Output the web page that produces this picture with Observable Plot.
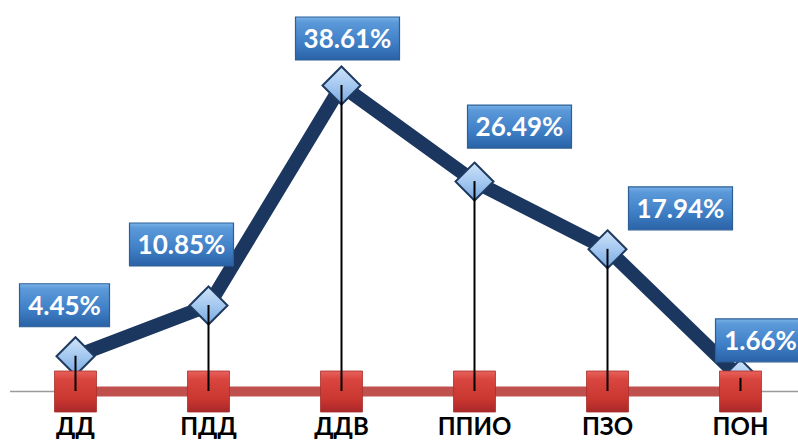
<!DOCTYPE html>
<html>
<head>
<meta charset="utf-8">
<script src="https://cdn.jsdelivr.net/npm/d3@7"></script>
<script src="https://cdn.jsdelivr.net/npm/@observablehq/plot@0.6"></script>
<style>
  html, body { margin: 0; padding: 0; background: white; }
  #chart svg { display: block; }
</style>
</head>
<body>
<div id="chart"></div>
<script>
const categories = ["ДД", "ПДД", "ДДВ", "ППИО", "ПЗО", "ПОН"];
const values = [4.45, 10.85, 38.61, 26.49, 17.94, 1.66];
const labelDx = [-11, -27, 6, 45, 73, 20];
const labelDy = [-51, -61, -47, -55, -41, -38];

const data = categories.map((c, i) => ({cat: c, value: values[i], label: values[i].toFixed(2) + "%"}));

const rectSymbol = (w, h) => ({draw(ctx) { ctx.rect(-w / 2, -h / 2, w, h); }});
const diamondSymbol = (s) => ({draw(ctx) { ctx.moveTo(0, -s); ctx.lineTo(s, 0); ctx.lineTo(0, s); ctx.lineTo(-s, 0); ctx.closePath(); }});

function defsMark() {
  const defs = d3.create("svg:defs");
  const grad = (id, stops) => {
    const g = defs.append("linearGradient").attr("id", id).attr("x1", 0).attr("y1", 0).attr("x2", 0).attr("y2", 1);
    stops.forEach(([o, c]) => g.append("stop").attr("offset", o).attr("stop-color", c));
  };
  grad("boxGrad", [[0, "#7ab2e8"], [0.12, "#5b99d9"], [0.6, "#3f7fc6"], [1, "#2a62a6"]]);
  grad("diaGrad", [[0, "#cfe3f8"], [0.5, "#a4c8f0"], [1, "#78a9e0"]]);
  grad("redGrad", [[0, "#e8625d"], [0.2, "#d9463f"], [0.7, "#c9352f"], [1, "#a9282a"]]);
  return defs.node();
}

const boxMarks = [];
data.forEach((d, i) => {
  const w = d.label.length * 14 + 20;
  boxMarks.push(Plot.dot([d], {
    x: "cat", y: "value", r: 5,
    symbol: rectSymbol(w, 43),
    dx: labelDx[i], dy: labelDy[i],
    fill: "url(#boxGrad)", stroke: "#2d5f96", strokeWidth: 1.2,
    style: "filter: drop-shadow(2px 3px 2px rgba(0,0,0,0.35))"
  }));
  boxMarks.push(Plot.text([d], {
    x: "cat", y: "value", text: "label",
    dx: labelDx[i], dy: labelDy[i] + 1,
    fill: "white", fontSize: 26, fontWeight: "bold", fontFamily: "Lato",
    textAnchor: "middle", lineAnchor: "middle",
    style: "text-shadow: 1px 1px 1px rgba(0,0,0,0.3)"
  }));
});

const chart = Plot.plot({
  width: 798,
  height: 440,
  marginTop: 74,
  marginBottom: 49,
  marginLeft: 10,
  marginRight: 0,
  style: {background: "white", fontFamily: "Lato"},
  x: {type: "point", domain: categories, range: [75, 740], padding: 0, label: null},
  y: {domain: [0, 40], range: [391, 74], axis: null},
  marks: [
    defsMark,
    Plot.ruleY([0], {stroke: "#9a9a9a", strokeWidth: 1.5}),
    Plot.line(data, {x: "cat", y: () => 0, stroke: "#c0504d", strokeWidth: 10, strokeLinecap: "butt"}),
    Plot.line(data, {x: "cat", y: "value", stroke: "#1b365f", strokeWidth: 14, strokeLinejoin: "miter", strokeLinecap: "butt"}),
    Plot.dot(data, {x: "cat", y: "value", r: 5, symbol: diamondSymbol(19), fill: "url(#diaGrad)", stroke: "#1e3a5f", strokeWidth: 2}),
    Plot.dot(data, {x: "cat", y: () => 0, r: 5, symbol: rectSymbol(42, 41), fill: "url(#redGrad)", stroke: "#a8302c", strokeWidth: 0.8,
      style: "filter: drop-shadow(1px 2px 2px rgba(0,0,0,0.35))"}),
    Plot.ruleX(data, {x: "cat", y1: 0, y2: "value", stroke: "black", strokeWidth: 2}),
    ...boxMarks,
    Plot.axisX({tickSize: 0, tickPadding: 26, fontSize: 24, fontWeight: "bold", fontFamily: "Lato", fill: "black", label: null})
  ]
});
document.getElementById("chart").appendChild(chart);
</script>
</body>
</html>
